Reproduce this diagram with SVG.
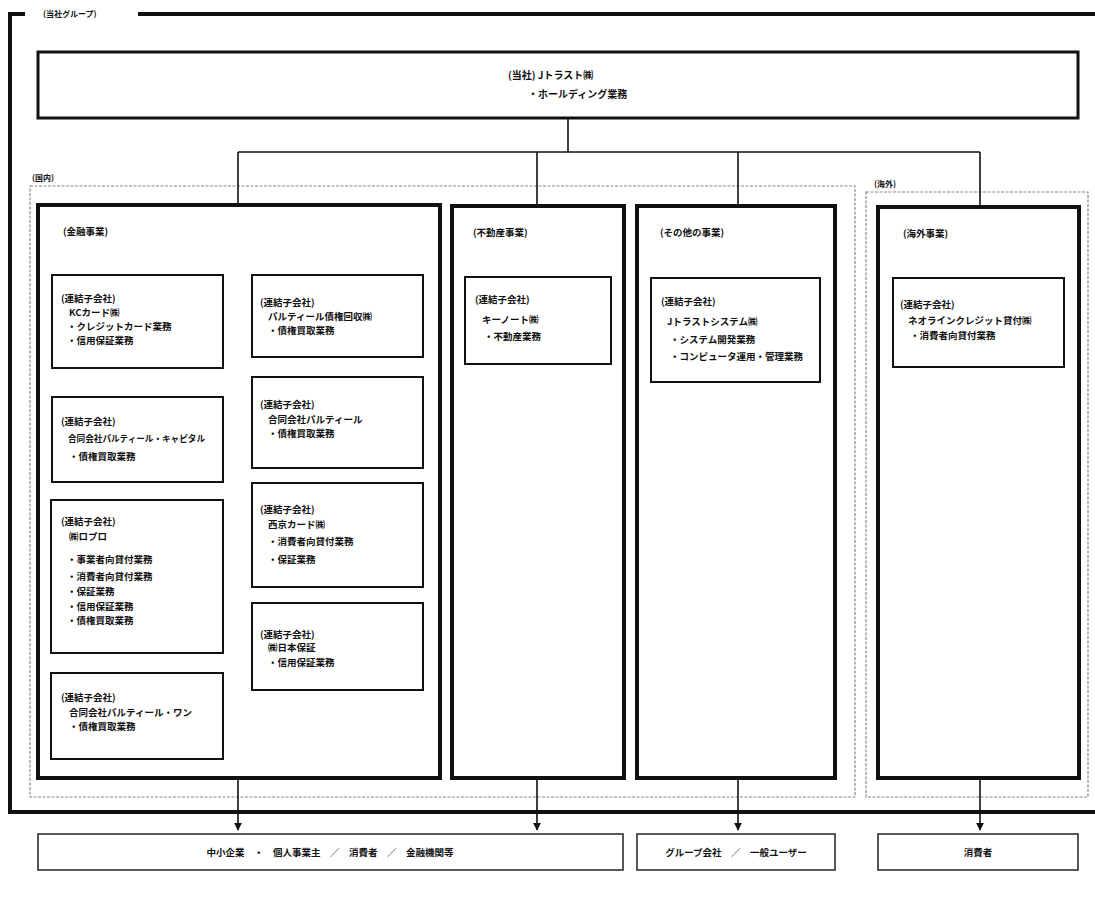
<svg xmlns="http://www.w3.org/2000/svg" width="1095" height="898" viewBox="0 0 1095 898">
<defs>
<style>
text{font-family:"Noto Sans CJK JP","Liberation Sans",sans-serif;font-weight:700;fill:#111;font-size:9.5px}
.sm{font-size:8px}
.tb{font-size:10px}
.nm{font-size:8.6px}
.frame{fill:none;stroke:#111;stroke-width:4}
.big{fill:#fff;stroke:#111;stroke-width:4}
.inner{fill:#fff;stroke:#111;stroke-width:2}
.region{fill:none;stroke:#888;stroke-width:1.2;stroke-dasharray:3 1.5}
.con{fill:none;stroke:#111;stroke-width:1.6}
.bot{fill:#fff;stroke:#222;stroke-width:1.5}
</style>
<marker id="ah" viewBox="0 0 10 10" refX="9" refY="5" markerWidth="5" markerHeight="5" orient="auto">
<path d="M0,0 L10,5 L0,10 z" fill="#111"/>
</marker>
</defs>
<rect width="1095" height="898" fill="#fff"/>

<g id="group-frame">
<path class="frame" d="M8,14 H25 M10,14 V812 H1095 M138,14 H1095"/>
<text class="sm" x="43" y="17">(当社グループ)</text>
</g>

<g id="region-domestic">
<rect class="region" x="30" y="186" width="825" height="611"/>
<text class="sm" x="32" y="181">(国内)</text>
</g>
<g id="region-overseas">
<rect class="region" x="866" y="192" width="222" height="605"/>
<text class="sm" x="874" y="187">(海外)</text>
</g>

<g id="connectors">
<path class="con" d="M568,118 V152 M238,152 H980 M238,152 V205 M537,152 V205 M738,152 V205 M980,152 V206"/>
<path class="con" d="M135,368 V397 M135,653 V673"/>
<path class="con" marker-end="url(#ah)" d="M238,778 V830"/>
<path class="con" marker-end="url(#ah)" d="M537,778 V830"/>
<path class="con" marker-end="url(#ah)" d="M738,778 V830"/>
<path class="con" marker-end="url(#ah)" d="M980,778 V830"/>
</g>

<g id="parent">
<rect x="38" y="52" width="1040" height="66" fill="#fff" stroke="#111" stroke-width="3"/>
<text class="tb" x="508" y="79">(当社) Jトラスト㈱</text>
<text class="tb" x="528" y="98">・ホールディング業務</text>
</g>

<g id="finance">
<rect class="big" x="38" y="205" width="402" height="573"/>
<text x="63" y="235">(金融事業)</text>
</g>
<g id="realestate">
<rect class="big" x="452" y="206" width="172" height="572"/>
<text x="473" y="236">(不動産事業)</text>
</g>
<g id="other">
<rect class="big" x="637" y="206" width="198" height="572"/>
<text x="660" y="236">(その他の事業)</text>
</g>
<g id="overseas">
<rect class="big" x="878" y="207" width="201" height="571"/>
<text x="903" y="237">(海外事業)</text>
</g>

<g id="kc-card">
<rect class="inner" x="52" y="275" width="171" height="93"/>
<text x="61" y="302">(連結子会社)</text>
<text x="69" y="316">KCカード㈱</text>
<text x="67" y="330">・クレジットカード業務</text>
<text x="67" y="344">・信用保証業務</text>
</g>
<g id="partir-1">
<rect class="inner" x="52" y="397" width="171" height="85"/>
<text x="61" y="425">(連結子会社)</text>
<text class="nm" x="68" y="442">合同会社パルティール・キャピタル</text>
<text x="69" y="460">・債権買取業務</text>
</g>
<g id="lopro">
<rect class="inner" x="51" y="500" width="172" height="153"/>
<text x="61" y="525">(連結子会社)</text>
<text x="69" y="540">㈱ロプロ</text>
<text x="67" y="563">・事業者向貸付業務</text>
<text x="67" y="580">・消費者向貸付業務</text>
<text x="67" y="595">・保証業務</text>
<text x="67" y="610">・信用保証業務</text>
<text x="67" y="624">・債権買取業務</text>
</g>
<g id="partir-3">
<rect class="inner" x="51" y="673" width="172" height="86"/>
<text x="61" y="701">(連結子会社)</text>
<text x="69" y="716">合同会社パルティール・ワン</text>
<text x="69" y="730">・債権買取業務</text>
</g>

<g id="partir-servicer">
<rect class="inner" x="252" y="275" width="171" height="82"/>
<text x="260" y="306">(連結子会社)</text>
<text x="268" y="320">パルティール債権回収㈱</text>
<text x="268" y="334">・債権買取業務</text>
</g>
<g id="partir-2">
<rect class="inner" x="252" y="377" width="171" height="91"/>
<text x="260" y="408">(連結子会社)</text>
<text x="268" y="423">合同会社パルティール</text>
<text x="268" y="437">・債権買取業務</text>
</g>
<g id="saikyo">
<rect class="inner" x="252" y="483" width="171" height="104"/>
<text x="260" y="513">(連結子会社)</text>
<text x="268" y="528">西京カード㈱</text>
<text x="268" y="545">・消費者向貸付業務</text>
<text x="268" y="563">・保証業務</text>
</g>
<g id="nihon-hosho">
<rect class="inner" x="252" y="603" width="171" height="87"/>
<text x="260" y="638">(連結子会社)</text>
<text x="268" y="651">㈱日本保証</text>
<text x="268" y="666">・信用保証業務</text>
</g>

<g id="keynote">
<rect class="inner" x="465" y="277" width="146" height="87"/>
<text x="475" y="303">(連結子会社)</text>
<text x="482" y="323">キーノート㈱</text>
<text x="484" y="340">・不動産業務</text>
</g>
<g id="jtrust-system">
<rect class="inner" x="651" y="278" width="169" height="104"/>
<text x="661" y="305">(連結子会社)</text>
<text x="667" y="325">Jトラストシステム㈱</text>
<text x="670" y="343">・システム開発業務</text>
<text x="670" y="360">・コンピュータ運用・管理業務</text>
</g>
<g id="neoline">
<rect class="inner" x="893" y="278" width="171" height="89"/>
<text x="900" y="308">(連結子会社)</text>
<text x="908" y="324">ネオラインクレジット貸付㈱</text>
<text x="910" y="339">・消費者向貸付業務</text>
</g>

<g id="customers-1">
<rect class="bot" x="38" y="834" width="585" height="36"/>
<text x="330" y="856" text-anchor="middle">中小企業　・　個人事業主　／　消費者　／　金融機関等</text>
</g>
<g id="customers-2">
<rect class="bot" x="637" y="834" width="198" height="36"/>
<text x="736" y="856" text-anchor="middle">グループ会社　／　一般ユーザー</text>
</g>
<g id="customers-3">
<rect class="bot" x="878" y="834" width="200" height="36"/>
<text x="978" y="856" text-anchor="middle">消費者</text>
</g>
</svg>
